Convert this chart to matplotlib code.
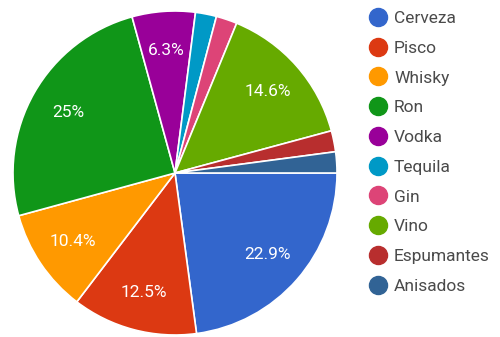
import numpy as np
import matplotlib.pyplot as plt
from matplotlib.lines import Line2D

labels = ['Cerveza', 'Pisco', 'Whisky', 'Ron', 'Vodka', 'Tequila', 'Gin',
          'Vino', 'Espumantes', 'Anisados']
shares = [22.9, 12.5, 10.4, 25.0, 6.3, 2.1, 2.1, 14.6, 2.1, 2.1]
colors = ['#3366CC', '#DC3912', '#FF9900', '#109618', '#990099', '#0099C6',
          '#DD4477', '#66AA00', '#B82E2E', '#316395']

plt.rcParams['font.family'] = ['Roboto', 'DejaVu Sans']

fig = plt.figure(figsize=(5, 3.37), dpi=100)
W, H = 500, 337
cx, cy, r = 175, 173, 162
ax = fig.add_axes([(cx - r) / W, (H - cy - r) / H, 2 * r / W, 2 * r / H])

wedges, _ = ax.pie(shares, colors=colors, startangle=0, counterclock=False,
                   wedgeprops=dict(edgecolor='white', linewidth=1.2))
ax.set_xlim(-1, 1)
ax.set_ylim(-1, 1)
ax.set_aspect('equal')

# percentage labels only on the larger slices
for w, v in zip(wedges, shares):
    if v < 5:
        continue
    ang = np.deg2rad((w.theta1 + w.theta2) / 2)
    d = 0.76
    ax.text(d * np.cos(ang), d * np.sin(ang), f'{v:g}%', ha='center',
            va='center', color='white', fontsize=12.5)

# legend with round markers
handles = [Line2D([], [], marker='o', linestyle='none', markersize=13,
                  markerfacecolor=c, markeredgecolor=c) for c in colors]
fig.legend(handles, labels, loc='upper left', bbox_to_anchor=(361 / W, 1 - 4 / H),
           frameon=False, fontsize=12.5, labelcolor='#4a4a4a',
           handletextpad=0.3, labelspacing=0.84, handlelength=1.2,
           borderaxespad=0)

fig.savefig('out.png', dpi=100)
